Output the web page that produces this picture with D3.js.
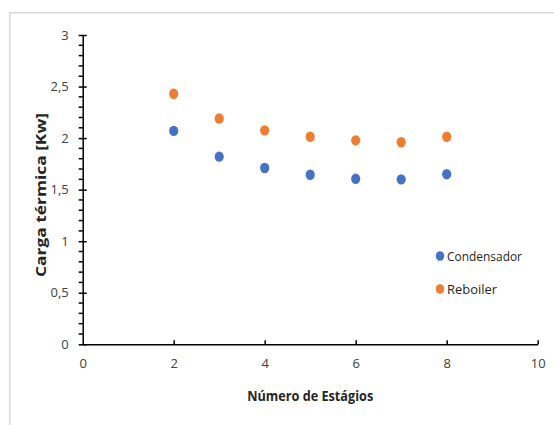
<!DOCTYPE html>
<html><head><meta charset="utf-8">
<script src="https://cdn.jsdelivr.net/npm/d3@7"></script>
<style>
html,body{margin:0;padding:0;background:#fff;}
svg text{font-family:"Liberation Sans Narrow","Open Sans",sans-serif;}
</style></head>
<body>
<svg id="chart" width="554" height="425"></svg>
<script>
const stages = [2, 3, 4, 5, 6, 7, 8];
const condensador = [2.07, 1.82, 1.71, 1.645, 1.605, 1.60, 1.65];
const reboiler = [2.43, 2.19, 2.075, 2.013, 1.978, 1.96, 2.013];
const seriesNames = ["Condensador", "Reboiler"];
const seriesColors = ["#4472C4", "#ED7D31"];
const xTicks = [0, 2, 4, 6, 8, 10];
const yTicks = [0, 0.5, 1, 1.5, 2, 2.5, 3];

const svg = d3.select("#chart");
// outer chart border
svg.append("path").attr("d","M9.75,425 V12.75 H554").attr("fill","none")
  .attr("stroke","#d9d9d9").attr("stroke-width",1.5);

const x = d3.scaleLinear().domain([0,10]).range([82.7,537.7]);
const y = d3.scaleLinear().domain([0,3]).range([344.3,35]);
const fmt = d => String(d).replace(".", ",");

// y axis minor ticks (outside, left)
const minor = d3.range(0, 3.0001, 0.1).filter(v => Math.abs(v*2 - Math.round(v*2)) > 1e-6);
svg.append("g").selectAll("line").data(minor).join("line")
  .attr("x1", x(0)-4).attr("x2", x(0)).attr("y1", d=>y(d)).attr("y2", d=>y(d))
  .attr("stroke","#000").attr("stroke-width",1.5);

// y axis
const gy = svg.append("g").attr("transform",`translate(${x(0)},0)`)
  .call(d3.axisLeft(y).tickValues(yTicks).tickFormat(fmt).tickSizeInner(4).tickSizeOuter(0).tickPadding(10));
gy.select(".domain").attr("stroke","#000").attr("stroke-width",1.5);
gy.selectAll(".tick line").attr("x1",-4).attr("x2",4).attr("stroke","#000").attr("stroke-width",1.5);
gy.selectAll(".tick text").attr("font-size",13).attr("fill","#404040");

// x axis
const gx = svg.append("g").attr("transform",`translate(0,${y(0)})`)
  .call(d3.axisBottom(x).tickValues(xTicks).tickFormat(fmt).tickSizeInner(-4).tickSizeOuter(0).tickPadding(14));
gx.select(".domain").attr("stroke","#000").attr("stroke-width",1.5);
gx.selectAll(".tick line").attr("stroke","#000").attr("stroke-width",1.5);
gx.selectAll(".tick").filter(d => d===0).select("line").remove();
gx.selectAll(".tick text").attr("font-size",13).attr("fill","#404040");

// axis titles
svg.append("text").attr("x", (x(0)+x(10))/2).attr("y", 401).attr("text-anchor","middle")
  .attr("font-size",14).attr("font-weight","bold").attr("fill","#262626")
  .attr("textLength",126).attr("lengthAdjust","spacingAndGlyphs").text("Número de Estágios");
svg.append("text").attr("transform",`translate(46,195) rotate(-90)`).attr("text-anchor","middle")
  .attr("font-size",14.5).attr("font-weight","bold").attr("fill","#262626")
  .attr("textLength",164).attr("lengthAdjust","spacingAndGlyphs").text("Carga térmica [Kw]");

// points
const series = [condensador, reboiler];
series.forEach((vals, i) => {
  svg.append("g").selectAll("ellipse").data(vals).join("ellipse")
    .attr("cx", (d,j) => x(stages[j])).attr("cy", d => y(d))
    .attr("rx", 4.6).attr("ry", 5.2).attr("fill", seriesColors[i]);
});

// legend
const legendY = [256, 289];
const legendLen = [75, 50];
seriesNames.forEach((name, i) => {
  svg.append("ellipse").attr("cx", 440).attr("cy", legendY[i]).attr("rx",4.2).attr("ry",4.8).attr("fill", seriesColors[i]);
  svg.append("text").attr("x", 447).attr("y", legendY[i]).attr("dy","0.35em")
    .attr("font-size",13.5).attr("fill","#262626")
    .attr("textLength",legendLen[i]).attr("lengthAdjust","spacingAndGlyphs").text(name);
});
</script>
</body></html>
